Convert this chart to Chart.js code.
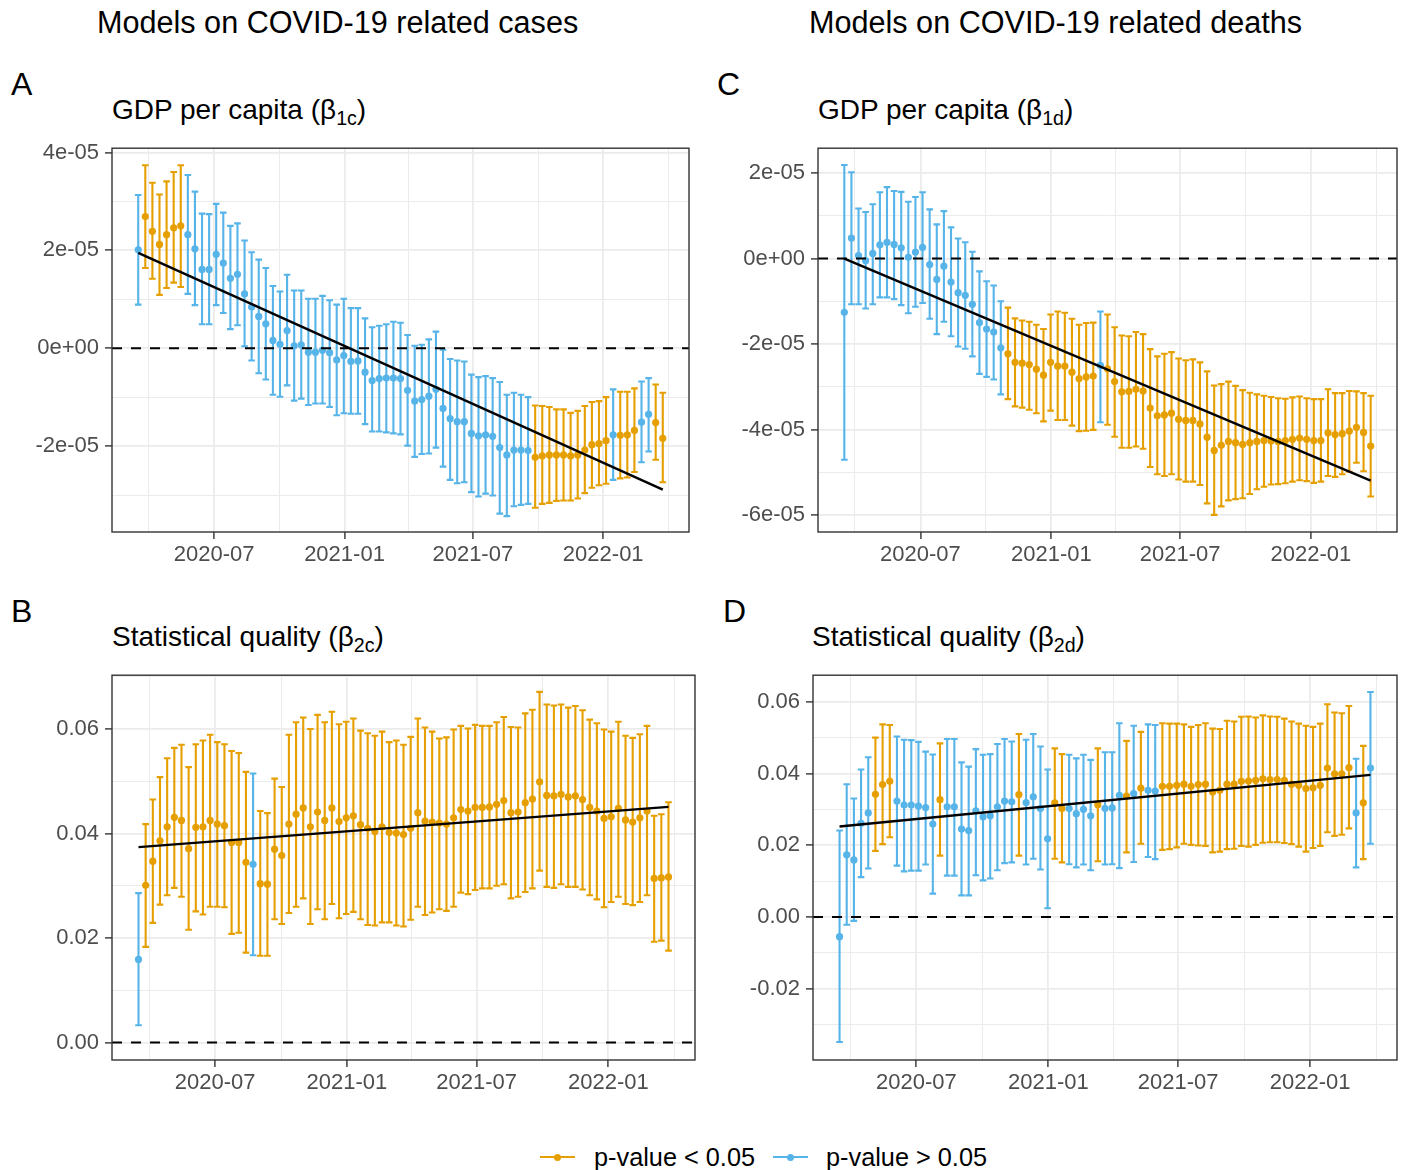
<!DOCTYPE html>
<html>
<head>
<meta charset="utf-8">
<script src="https://cdn.jsdelivr.net/npm/chart.js@4.4.0/dist/chart.umd.min.js"></script>
<style>
  body { margin: 0; background: #fff; width: 1403px; height: 1170px; position: relative; overflow: hidden;
         font-family: "Liberation Sans", Arial, Helvetica, sans-serif; }
  .txt { position: absolute; white-space: nowrap; line-height: 1; color: #000; }
  .title { font-size: 30.6px; }
  .tag { font-size: 32px; }
  .sub { font-size: 28px; }
  .sub .s { font-size: 0.7em; position: relative; top: 0.32em; }
  .legtxt { font-size: 25.3px; }
  .key { position: absolute; height: 2px; width: 35px; }
  .dot { position: absolute; width: 7px; height: 7px; border-radius: 50%; }
  canvas { position: absolute; }
</style>
</head>
<body>
<div class="txt title" style="left:97px; top:7px">Models on COVID-19 related cases</div>
<div class="txt title" style="left:809px; top:7px">Models on COVID-19 related deaths</div>

<div class="txt tag" style="left:11px; top:68px">A</div>
<div class="txt tag" style="left:717px; top:68px">C</div>
<div class="txt tag" style="left:11px; top:595px">B</div>
<div class="txt tag" style="left:723px; top:595px">D</div>

<div class="txt sub" style="left:112px; top:96px">GDP per capita (β<span class="s">1c</span>)</div>
<div class="txt sub" style="left:818px; top:96px">GDP per capita (β<span class="s">1d</span>)</div>
<div class="txt sub" style="left:112px; top:623px">Statistical quality (β<span class="s">2c</span>)</div>
<div class="txt sub" style="left:812px; top:623px">Statistical quality (β<span class="s">2d</span>)</div>

<canvas id="chartA"></canvas>
<canvas id="chartC"></canvas>
<canvas id="chartB"></canvas>
<canvas id="chartD"></canvas>

<div class="key" style="left:540px; top:1156px; background:#E69F00"></div>
<div class="dot" style="left:554px; top:1153.5px; background:#E69F00"></div>
<div class="txt legtxt" style="left:594px; top:1145px">p-value &lt; 0.05</div>
<div class="key" style="left:773px; top:1156px; background:#56B4E9"></div>
<div class="dot" style="left:787px; top:1153.5px; background:#56B4E9"></div>
<div class="txt legtxt" style="left:826px; top:1145px">p-value &gt; 0.05</div>

<script>
// one estimate every 10 days; x is counted in days from 2020-01-01
const FIRST_DAY = 75;   // 2020-03-16
const STEP_DAYS = 10;
const N_POINTS = 75;
const X_MIN = 38, X_MAX = 852;

const xMajorDays = [182, 366, 547, 731];
const xMajorLabels = ["2020-07", "2021-01", "2021-07", "2022-01"];
const xMinorDays = [90, 274, 456.5, 639, 823];

const ORANGE = "#E69F00";   // p-value < 0.05
const BLUE = "#56B4E9";     // p-value > 0.05

// ---- A: GDP per capita, cases (values x 1e-5)
const estA = [
  2.01, 2.69, 2.39, 2.12, 2.32, 2.46, 2.50, 2.32, 2.03, 1.61,
  1.61, 1.92, 1.74, 1.43, 1.51, 1.11, 0.84, 0.65, 0.50, 0.16,
  0.08, 0.36, 0.05, 0.07, -0.08, -0.08, -0.04, -0.09, -0.24, -0.15,
  -0.27, -0.26, -0.49, -0.66, -0.62, -0.61, -0.61, -0.62, -0.86, -1.08,
  -1.05, -0.98, -0.84, -1.23, -1.44, -1.50, -1.50, -1.74, -1.79, -1.77,
  -1.80, -2.03, -2.18, -2.08, -2.08, -2.09, -2.23, -2.20, -2.18, -2.18,
  -2.18, -2.20, -2.18, -2.08, -1.97, -1.95, -1.89, -1.77, -1.78, -1.77,
  -1.68, -1.51, -1.35, -1.52, -1.84];
const hiA = [
  3.13, 3.74, 3.38, 3.14, 3.41, 3.60, 3.74, 3.54, 3.20, 2.75,
  2.74, 2.95, 2.77, 2.50, 2.55, 2.20, 1.96, 1.81, 1.64, 1.27,
  1.16, 1.50, 1.18, 1.18, 1.01, 1.01, 1.07, 0.98, 0.89, 1.01,
  0.82, 0.82, 0.61, 0.43, 0.46, 0.49, 0.54, 0.52, 0.27, 0.05,
  0.07, 0.18, 0.34, -0.03, -0.22, -0.25, -0.27, -0.54, -0.59, -0.57,
  -0.61, -0.69, -0.95, -0.91, -0.95, -1.00, -1.17, -1.18, -1.20, -1.25,
  -1.25, -1.32, -1.28, -1.18, -1.10, -1.08, -1.00, -0.84, -0.89, -0.89,
  -0.82, -0.68, -0.61, -0.74, -0.91];
const loA = [
  0.89, 1.64, 1.42, 1.09, 1.23, 1.34, 1.25, 1.11, 0.88, 0.49,
  0.49, 0.88, 0.72, 0.39, 0.47, 0.04, -0.25, -0.51, -0.64, -0.95,
  -0.99, -0.76, -1.07, -1.03, -1.16, -1.13, -1.13, -1.20, -1.37, -1.33,
  -1.34, -1.34, -1.55, -1.70, -1.70, -1.72, -1.74, -1.76, -1.99, -2.22,
  -2.16, -2.15, -2.03, -2.42, -2.69, -2.76, -2.74, -2.94, -3.03, -2.97,
  -3.01, -3.38, -3.43, -3.23, -3.20, -3.18, -3.26, -3.18, -3.16, -3.12,
  -3.11, -3.11, -3.07, -2.96, -2.85, -2.80, -2.77, -2.69, -2.66, -2.64,
  -2.53, -2.33, -2.11, -2.28, -2.74];
const sigA = "0111111000" + "0000000000" + "0000000000" + "0000000000" + "0000000000" +
             "0000001111" + "1111111011" + "10011";
const trendA = [1.95, -2.89];

// ---- C: GDP per capita, deaths (values x 1e-5)
const estC = [
  -1.26, 0.48, 0.07, -0.05, 0.12, 0.32, 0.38, 0.33, 0.25, 0.03,
  0.15, 0.26, -0.14, -0.49, -0.18, -0.55, -0.80, -0.86, -1.07, -1.50,
  -1.65, -1.72, -2.09, -2.23, -2.43, -2.45, -2.48, -2.59, -2.73, -2.43,
  -2.52, -2.52, -2.66, -2.81, -2.77, -2.75, -2.50, -2.58, -2.88, -3.12,
  -3.11, -3.06, -3.10, -3.50, -3.68, -3.66, -3.62, -3.76, -3.79, -3.79,
  -3.87, -4.18, -4.49, -4.37, -4.28, -4.31, -4.35, -4.31, -4.28, -4.26,
  -4.27, -4.28, -4.26, -4.23, -4.20, -4.23, -4.26, -4.26, -4.08, -4.12,
  -4.10, -4.04, -3.95, -4.07, -4.39];
const hiC = [
  2.19, 2.02, 1.17, 1.09, 1.27, 1.55, 1.67, 1.58, 1.56, 1.33,
  1.44, 1.55, 1.15, 0.80, 1.11, 0.73, 0.47, 0.38, 0.16, -0.30,
  -0.53, -0.63, -1.00, -1.15, -1.40, -1.45, -1.48, -1.55, -1.65, -1.31,
  -1.24, -1.27, -1.41, -1.55, -1.51, -1.50, -1.24, -1.31, -1.61, -1.80,
  -1.82, -1.72, -1.77, -2.12, -2.29, -2.23, -2.19, -2.34, -2.38, -2.36,
  -2.43, -2.64, -2.97, -2.94, -2.88, -2.98, -3.08, -3.14, -3.18, -3.21,
  -3.24, -3.27, -3.28, -3.25, -3.23, -3.27, -3.29, -3.29, -3.06, -3.15,
  -3.15, -3.10, -3.11, -3.15, -3.21];
const loC = [
  -4.71, -1.07, -1.07, -1.17, -1.07, -0.91, -0.91, -0.95, -1.09, -1.28,
  -1.13, -1.04, -1.41, -1.77, -1.48, -1.82, -2.06, -2.11, -2.29, -2.70,
  -2.77, -2.83, -3.18, -3.29, -3.46, -3.49, -3.54, -3.62, -3.81, -3.56,
  -3.78, -3.78, -3.91, -4.04, -4.03, -4.01, -3.83, -3.89, -4.17, -4.43,
  -4.43, -4.40, -4.45, -4.88, -5.05, -5.09, -5.05, -5.17, -5.22, -5.22,
  -5.30, -5.73, -6.00, -5.80, -5.66, -5.63, -5.61, -5.51, -5.40, -5.34,
  -5.29, -5.28, -5.26, -5.22, -5.19, -5.21, -5.25, -5.22, -5.09, -5.11,
  -5.05, -4.99, -4.78, -4.98, -5.57];
const sigC = "0000000000" + "0000000000" + "0001111111" + "1111110111" + "1111111111" +
             "1111111111" + "1111111111" + "11111";
const trendC = [0.0, -5.20];

// ---- B: statistical quality, cases (values x 0.01)
const estB = [
  1.59, 3.01, 3.47, 3.86, 4.13, 4.31, 4.25, 3.71, 4.12, 4.13,
  4.25, 4.18, 4.15, 3.83, 3.83, 3.45, 3.41, 3.04, 3.03, 3.70,
  3.58, 4.18, 4.37, 4.49, 4.13, 4.41, 4.25, 4.49, 4.23, 4.30,
  4.34, 4.17, 4.10, 4.04, 4.13, 4.02, 4.01, 3.98, 4.10, 4.40,
  4.24, 4.22, 4.20, 4.18, 4.30, 4.46, 4.43, 4.50, 4.50, 4.51,
  4.56, 4.63, 4.40, 4.41, 4.59, 4.66, 4.99, 4.73, 4.72, 4.75,
  4.70, 4.72, 4.65, 4.50, 4.43, 4.29, 4.32, 4.48, 4.26, 4.22,
  4.30, 4.43, 3.14, 3.15, 3.17];
const hiB = [
  2.86, 4.18, 4.65, 5.08, 5.44, 5.64, 5.70, 5.27, 5.71, 5.78,
  5.89, 5.75, 5.71, 5.58, 5.54, 5.18, 5.15, 4.43, 4.39, 5.05,
  4.89, 5.89, 6.13, 6.22, 6.00, 6.27, 6.13, 6.33, 6.09, 6.14,
  6.20, 5.97, 5.92, 5.87, 5.95, 5.75, 5.78, 5.70, 5.85, 6.20,
  6.03, 5.95, 5.82, 5.84, 5.99, 6.06, 6.01, 6.08, 6.06, 6.06,
  6.13, 6.23, 6.04, 6.03, 6.30, 6.37, 6.71, 6.47, 6.45, 6.47,
  6.41, 6.44, 6.36, 6.18, 6.11, 5.99, 5.95, 6.14, 5.87, 5.83,
  5.90, 6.06, 4.34, 4.37, 4.60];
const loB = [
  0.33, 1.83, 2.29, 2.64, 2.82, 2.96, 2.79, 2.16, 2.51, 2.45,
  2.60, 2.60, 2.59, 2.08, 2.10, 1.72, 1.67, 1.66, 1.66, 2.36,
  2.27, 2.48, 2.60, 2.76, 2.27, 2.55, 2.36, 2.65, 2.38, 2.46,
  2.50, 2.36, 2.25, 2.24, 2.30, 2.30, 2.24, 2.22, 2.35, 2.60,
  2.44, 2.49, 2.55, 2.52, 2.60, 2.87, 2.84, 2.92, 2.95, 2.95,
  3.00, 3.03, 2.76, 2.79, 2.88, 2.95, 3.29, 2.98, 2.96, 3.03,
  2.98, 2.98, 2.93, 2.82, 2.74, 2.59, 2.69, 2.79, 2.65, 2.63,
  2.69, 2.82, 1.93, 1.95, 1.76];
const sigB = "0111111111" + "1111110111" + "1111111111" + "1111111111" + "1111111111" +
             "1111111111" + "1111111111" + "11111";
const trendB = [3.74, 4.51];

// ---- D: statistical quality, deaths (values x 0.01)
const estD = [
  -0.55, 1.73, 1.59, 2.61, 2.90, 3.42, 3.69, 3.78, 3.23, 3.12,
  3.12, 3.09, 3.05, 2.59, 3.27, 3.07, 3.07, 2.45, 2.41, 2.96,
  2.79, 2.82, 3.07, 3.23, 3.21, 3.41, 3.19, 3.35, 3.02, 2.18,
  3.18, 3.02, 3.02, 2.88, 3.00, 2.82, 3.13, 3.03, 3.04, 3.39,
  3.37, 3.44, 3.59, 3.53, 3.51, 3.64, 3.64, 3.67, 3.70, 3.64,
  3.69, 3.70, 3.48, 3.53, 3.70, 3.70, 3.78, 3.79, 3.81, 3.85,
  3.83, 3.83, 3.81, 3.70, 3.67, 3.58, 3.60, 3.67, 4.15, 3.99,
  3.99, 4.16, 2.90, 3.18, 4.15];
const hiD = [
  2.41, 3.70, 3.30, 4.11, 4.45, 5.00, 5.37, 5.35, 5.03, 4.94,
  4.93, 4.88, 4.61, 4.53, 4.84, 4.96, 4.96, 4.31, 4.19, 4.68,
  4.52, 4.54, 4.82, 4.96, 4.89, 5.10, 4.94, 5.10, 4.75, 4.11,
  4.70, 4.54, 4.52, 4.42, 4.52, 4.38, 4.70, 4.59, 4.59, 5.40,
  4.91, 5.33, 5.16, 5.37, 5.35, 5.40, 5.39, 5.39, 5.37, 5.30,
  5.35, 5.40, 5.25, 5.24, 5.47, 5.45, 5.58, 5.59, 5.56, 5.62,
  5.59, 5.58, 5.53, 5.45, 5.39, 5.33, 5.30, 5.39, 5.93, 5.70,
  5.68, 5.88, 4.41, 4.77, 6.27];
const loD = [
  -3.49, -0.22, -0.11, 1.11, 1.35, 1.84, 2.03, 2.22, 1.43, 1.27,
  1.29, 1.29, 1.46, 0.65, 1.71, 1.15, 1.15, 0.60, 0.60, 1.16,
  1.02, 1.07, 1.30, 1.50, 1.52, 1.71, 1.46, 1.62, 1.32, 0.24,
  1.62, 1.52, 1.47, 1.38, 1.46, 1.30, 1.55, 1.46, 1.47, 1.36,
  1.80, 1.53, 2.04, 1.67, 1.61, 1.87, 1.89, 1.94, 2.04, 2.01,
  1.99, 1.98, 1.80, 1.82, 1.89, 1.90, 1.98, 1.96, 2.01, 2.07,
  2.08, 2.08, 2.06, 2.03, 1.96, 1.82, 1.92, 1.98, 2.36, 2.26,
  2.29, 2.47, 1.38, 1.61, 2.04];
const sigD = "0000011100" + "0000100000" + "0000010000" + "1100001000" + "1010011111" +
             "1111111111" + "1111111111" + "11010";
const trendD = [2.52, 3.96];

// y axis ticks
const yMajorA = [-2e-5, 0, 2e-5, 4e-5];
const yLabelsA = ["-2e-05", "0e+00", "2e-05", "4e-05"];
const yMinorA = [-3e-5, -1e-5, 1e-5, 3e-5];
const yMajorC = [-6e-5, -4e-5, -2e-5, 0, 2e-5];
const yLabelsC = ["-6e-05", "-4e-05", "-2e-05", "0e+00", "2e-05"];
const yMinorC = [-5e-5, -3e-5, -1e-5, 1e-5];
const yMajorB = [0, 0.02, 0.04, 0.06];
const yLabelsB = ["0.00", "0.02", "0.04", "0.06"];
const yMinorB = [0.01, 0.03, 0.05, 0.07];
const yMajorD = [-0.02, 0, 0.02, 0.04, 0.06];
const yLabelsD = ["-0.02", "0.00", "0.02", "0.04", "0.06"];
const yMinorD = [-0.03, -0.01, 0.01, 0.03, 0.05];

const days = Array.from({ length: N_POINTS }, (_, i) => FIRST_DAY + STEP_DAYS * i);

Chart.defaults.font.family = '"Liberation Sans", Arial, Helvetica, sans-serif';
Chart.defaults.font.size = 22;
Chart.defaults.color = "#4D4D4D";

const errorBarPlugin = {
    id: "errorBars",
    beforeDatasetsDraw(chart) {
        const { ctx, scales: { x, y } } = chart;
        chart.data.datasets.forEach(ds => {
            if (!ds.withBars) return;
            ctx.save();
            ctx.strokeStyle = ds.backgroundColor;
            ctx.lineWidth = 2.1;
            ctx.beginPath();
            ds.data.forEach(p => {
                const px = x.getPixelForValue(p.x);
                const top = y.getPixelForValue(p.hi);
                const bot = y.getPixelForValue(p.lo);
                ctx.moveTo(px, top); ctx.lineTo(px, bot);
                ctx.moveTo(px - 3.3, top); ctx.lineTo(px + 3.3, top);
                ctx.moveTo(px - 3.3, bot); ctx.lineTo(px + 3.3, bot);
            });
            ctx.stroke();
            ctx.restore();
        });
    }
};

const borderPlugin = {
    id: "panelBorder",
    afterDraw(chart) {
        const { ctx, chartArea: a } = chart;
        ctx.save();
        ctx.strokeStyle = "#333333";
        ctx.lineWidth = 1.4;
        ctx.strokeRect(a.left, a.top, a.right - a.left, a.bottom - a.top);
        ctx.restore();
    }
};

function buildTicks(majors, labels, minors) {
    const t = majors.map((v, i) => ({ value: v, lab: labels[i], isMajor: true }));
    minors.forEach(v => t.push({ value: v, lab: "", isMajor: false }));
    return t.sort((a, b) => a.value - b.value);
}

function gridOpts() {
    return {
        color: "#EBEBEB",
        lineWidth: c => (c.tick && c.tick.isMajor ? 1.8 : 1.0),
        tickColor: c => (c.tick && c.tick.isMajor ? "#333333" : "rgba(0,0,0,0)"),
        tickWidth: 1.4,
        tickLength: 7
    };
}

function makePanel(id, box, unit, yMin, yMax, yTicks, est, lo, hi, sig, trend) {
    const [L, T, R, B] = box;
    const padTop = 16, padRight = 10, yAxisW = 110, xAxisH = 50;
    const canvas = document.getElementById(id);
    canvas.width = R - L + yAxisW + padRight;
    canvas.height = B - T + padTop + xAxisH;
    canvas.style.left = (L - yAxisW) + "px";
    canvas.style.top = (T - padTop) + "px";

    const pts = days.map((d, i) => ({ x: d, y: est[i] * unit, lo: lo[i] * unit, hi: hi[i] * unit, s: sig[i] === "1" }));
    const xTicks = buildTicks(xMajorDays, xMajorLabels, xMinorDays);

    return new Chart(canvas, {
        type: "scatter",
        data: {
            datasets: [
                {
                    label: "trend",
                    data: [{ x: days[0], y: trend[0] * unit }, { x: days[N_POINTS - 1], y: trend[1] * unit }],
                    showLine: true, borderColor: "#000", borderWidth: 2.4, pointRadius: 0, order: 0
                },
                {
                    label: "zero",
                    data: [{ x: X_MIN, y: 0 }, { x: X_MAX, y: 0 }],
                    showLine: true, borderColor: "#000", borderWidth: 2, borderDash: [10, 9],
                    pointRadius: 0, order: 1
                },
                {
                    label: "p-value > 0.05",
                    data: pts.filter(p => !p.s),
                    backgroundColor: BLUE, borderColor: BLUE, pointRadius: 3.6, pointBorderWidth: 0,
                    withBars: true, order: 2
                },
                {
                    label: "p-value < 0.05",
                    data: pts.filter(p => p.s),
                    backgroundColor: ORANGE, borderColor: ORANGE, pointRadius: 3.6, pointBorderWidth: 0,
                    withBars: true, order: 3
                }
            ]
        },
        options: {
            responsive: false,
            animation: false,
            events: [],
            layout: { padding: { top: padTop, right: padRight, left: 0, bottom: 0 } },
            plugins: { legend: { display: false }, tooltip: { enabled: false } },
            scales: {
                x: {
                    type: "linear", min: X_MIN, max: X_MAX,
                    afterBuildTicks: s => { s.ticks = xTicks.map(t => ({ ...t })); },
                    afterFit: s => { s.height = xAxisH; },
                    ticks: { autoSkip: false, maxRotation: 0, padding: 3, callback: (v, i, t) => t[i].lab },
                    grid: gridOpts(),
                    border: { display: false }
                },
                y: {
                    type: "linear", min: yMin, max: yMax,
                    afterBuildTicks: s => { s.ticks = yTicks.map(t => ({ ...t })); },
                    afterFit: s => { s.width = yAxisW; },
                    ticks: { autoSkip: false, padding: 6, callback: (v, i, t) => t[i].lab },
                    grid: gridOpts(),
                    border: { display: false }
                }
            }
        },
        plugins: [errorBarPlugin, borderPlugin]
    });
}

makePanel("chartA", [112, 145, 689, 532], 1e-5, -3.755e-5, 4.087e-5,
    buildTicks(yMajorA, yLabelsA, yMinorA), estA, loA, hiA, sigA, trendA);
makePanel("chartC", [818, 145, 1397, 532], 1e-5, -6.40e-5, 2.582e-5,
    buildTicks(yMajorC, yLabelsC, yMinorC), estC, loC, hiC, sigC, trendC);
makePanel("chartB", [112, 672, 695, 1060], 0.01, -0.00334, 0.0703,
    buildTicks(yMajorB, yLabelsB, yMinorB), estB, loB, hiB, sigB, trendB);
makePanel("chartD", [813, 672, 1397, 1060], 0.01, -0.0399, 0.0674,
    buildTicks(yMajorD, yLabelsD, yMinorD), estD, loD, hiD, sigD, trendD);
</script>
</body>
</html>
